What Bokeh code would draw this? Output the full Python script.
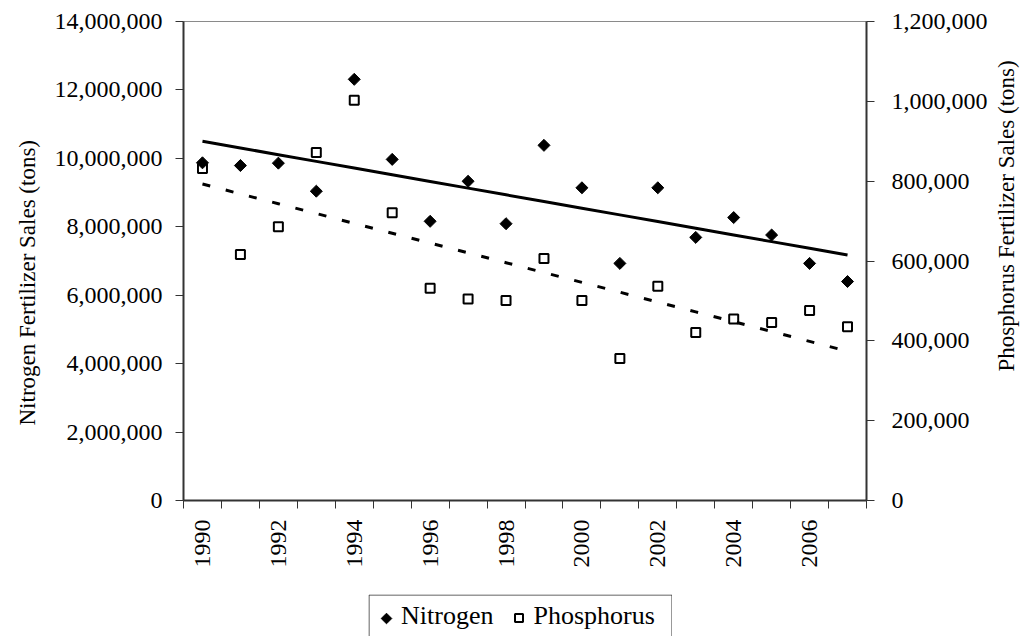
import math
import numpy as np
from bokeh.plotting import figure
from bokeh.layouts import column, row
from bokeh.models import (Range1d, LinearAxis, FixedTicker, NumeralTickFormatter,
                          Title, Spacer)
from bokeh.core.properties import value
from bokeh.embed import file_html
from bokeh.resources import INLINE

# ---- data ----
years = list(range(1990, 2008))
nitrogen = [9870000, 9790000, 9860000, 9040000, 12310000, 9970000, 8160000, 9330000, 8090000,
            10380000, 9140000, 6930000, 9140000, 7690000, 8270000, 7760000, 6930000, 6400000]
phosphorus = [832000, 616000, 686000, 872000, 1003000, 721000, 532000, 505000, 501000,
              606000, 501000, 356000, 537000, 421000, 455000, 446000, 476000, 435000]
year_labels = [1990, 1992, 1994, 1996, 1998, 2000, 2002, 2004, 2006]
left_ticks = [0, 2000000, 4000000, 6000000, 8000000, 10000000, 12000000, 14000000]
right_ticks = [0, 200000, 400000, 600000, 800000, 1000000, 1200000]
left_title = "Nitrogen Fertilizer Sales (tons)"
right_title = "Phosphorus Fertilizer Sales (tons)"
legend_labels = ["Nitrogen", "Phosphorus"]

FONT = "Liberation Serif"
AXIS_COLOR = "#333333"

p = figure(width=990, height=594, output_backend="svg", toolbar_location=None,
           x_range=Range1d(years[0] - 0.5, years[-1] + 0.5),
           y_range=Range1d(left_ticks[0], left_ticks[-1]),
           min_border_left=177, min_border_right=123, min_border_top=21, min_border_bottom=94)
p.extra_y_ranges = {"p": Range1d(right_ticks[0], right_ticks[-1])}
p.xgrid.visible = False
p.ygrid.visible = False
p.outline_line_color = "#8a8a8a"
p.outline_line_width = 1
p.background_fill_color = "white"
p.border_fill_color = "white"

# x axis
xa = p.xaxis[0]
xa.ticker = FixedTicker(ticks=year_labels, minor_ticks=[y - 0.5 for y in years] + [years[-1] + 0.5])
xa.major_label_orientation = math.pi / 2
xa.major_tick_line_color = None
xa.major_tick_out = 8
xa.major_tick_in = 0
xa.minor_tick_out = 8
xa.minor_tick_in = 0
xa.minor_tick_line_color = AXIS_COLOR
xa.minor_tick_line_width = 1
xa.axis_line_color = AXIS_COLOR
xa.axis_line_width = 2
xa.major_label_standoff = 11
xa.major_label_text_font = FONT
xa.major_label_text_font_size = "24px"
xa.major_label_text_color = "black"

# left axis
ya = p.yaxis[0]
ya.ticker = FixedTicker(ticks=left_ticks)
ya.formatter = NumeralTickFormatter(format="0,0")
ya.minor_tick_line_color = None
ya.major_tick_out = 8
ya.major_tick_in = 0
ya.major_tick_line_color = AXIS_COLOR
ya.axis_line_color = AXIS_COLOR
ya.axis_line_width = 2
ya.major_label_standoff = 13
ya.major_label_text_font = FONT
ya.major_label_text_font_size = "24px"
ya.major_label_text_color = "black"

# right axis
ra = LinearAxis(y_range_name="p", ticker=FixedTicker(ticks=right_ticks),
                formatter=NumeralTickFormatter(format="0,0"))
ra.minor_tick_line_color = None
ra.major_tick_out = 8
ra.major_tick_in = 0
ra.major_tick_line_color = AXIS_COLOR
ra.axis_line_color = AXIS_COLOR
ra.axis_line_width = 2
ra.major_label_standoff = 17
ra.major_label_text_font = FONT
ra.major_label_text_font_size = "24px"
ra.major_label_text_color = "black"
p.add_layout(ra, "right")

# markers
rp = p.scatter(years, phosphorus, y_range_name="p", marker="square", size=9,
               fill_color="white", line_color="black", line_width=2)
rn = p.scatter(years, nitrogen, marker="square", angle=math.pi / 4, size=8.5,
               fill_color="black", line_color="black", line_width=1)

# linear trend lines
nfit = np.polyval(np.polyfit(years, nitrogen, 1), years)
pfit = np.polyval(np.polyfit(years, phosphorus, 1), years)
p.line(years, nfit, line_width=3, line_color="black")
p.line(years, pfit, y_range_name="p", line_width=3, line_color="black", line_dash="8 16")

# left axis title
p.add_layout(Title(text=left_title, align="left", offset=75, standoff=24,
                   text_font=FONT, text_font_size="23px", text_font_style="normal",
                   text_color="black"), "left")

# ---- right axis title (narrow strip to the right of the chart) ----
rt = figure(width=34, height=594, output_backend="svg", toolbar_location=None,
            x_range=Range1d(0, 34), y_range=Range1d(594, 0),
            x_axis_type=None, y_axis_type=None, min_border=0)
rt.xgrid.visible = False
rt.ygrid.visible = False
rt.outline_line_color = None
rt.background_fill_color = "white"
rt.border_fill_color = "white"
rt.text(x=[16], y=[434], text=[right_title], angle=math.pi / 2, text_align="left",
        text_baseline="alphabetic", text_font=value(FONT), text_font_size="23px",
        text_color="black")

# ---- legend box (separate small figure below the chart) ----
lg = figure(width=304, height=42, output_backend="svg", toolbar_location=None,
            x_range=Range1d(0, 304), y_range=Range1d(42, 0),
            x_axis_type=None, y_axis_type=None, min_border=0)
lg.xgrid.visible = False
lg.ygrid.visible = False
lg.outline_line_color = None
lg.background_fill_color = "white"
lg.border_fill_color = "white"
lg.multi_line(xs=[[0.5, 0.5, 303.5, 303.5]], ys=[[42, 0.5, 0.5, 42]],
              line_color="#333333", line_width=1)
lg.scatter([18], [24], marker="square", angle=math.pi / 4, size=7.5,
           fill_color="black", line_color="black", line_width=1)
lg.scatter([150.5], [23.5], marker="square", size=8, fill_color="white",
           line_color="black", line_width=2)
lg.text(x=[32.5, 165], y=[21, 21], text=legend_labels, text_font=value(FONT),
        text_font_size="26px", text_baseline="alphabetic", text_color="black")

layout = column(row(p, rt, spacing=0),
                row(Spacer(width=368, height=42), lg, spacing=0), spacing=0)

open("out.html", "w").write(file_html(layout, INLINE))
